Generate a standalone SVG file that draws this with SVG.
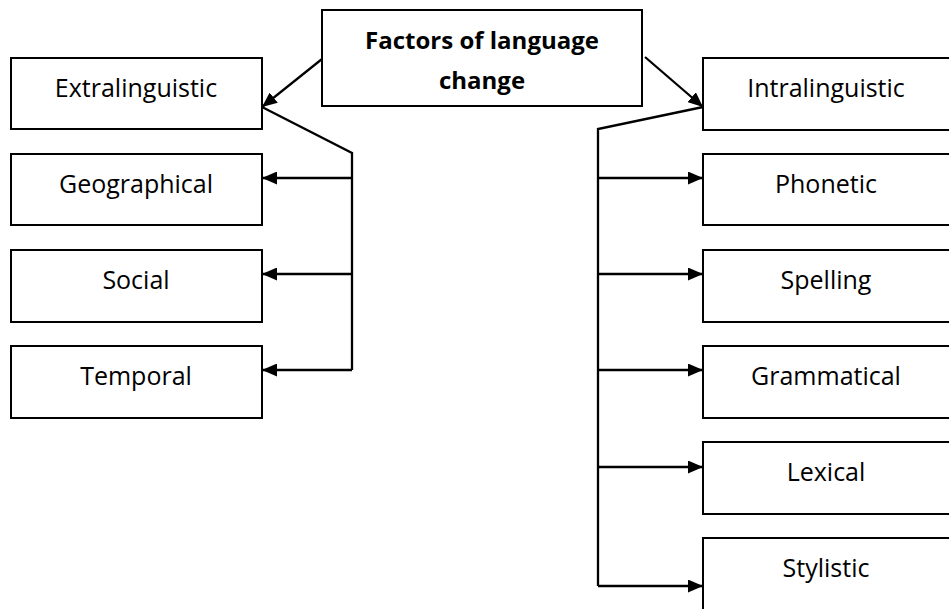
<svg xmlns="http://www.w3.org/2000/svg" width="949" height="609" viewBox="0 0 949 609">
<defs>
<style>
.box{fill:#fff;stroke:#000;stroke-width:2}
.t{font-family:"Open Sans","Noto Sans","Liberation Sans",sans-serif;font-size:25px;fill:#000;text-anchor:middle;font-variant-ligatures:none}
.b{font-weight:bold;font-size:24px}
.c{fill:none;stroke:#000;stroke-width:2.3}
</style>
<marker id="ah" viewBox="0 0 15 13" refX="15" refY="6.5" markerWidth="15" markerHeight="13" markerUnits="userSpaceOnUse" orient="auto">
<path d="M0,0 L15,6.5 L0,13 Z" fill="#000"/>
</marker>
</defs>
<rect width="949" height="609" fill="#fff"/>
<g id="root"><rect class="box" x="322" y="10" width="320" height="96"/><text class="t b" x="482" y="49">Factors of language</text><text class="t b" x="482" y="89">change</text></g>
<g id="extra"><rect class="box" x="11" y="58" width="251" height="71"/><text class="t" x="136" y="97">Extralinguistic</text></g>
<g id="geo"><rect class="box" x="11" y="154" width="251" height="71"/><text class="t" x="136" y="193">Geographical</text></g>
<g id="social"><rect class="box" x="11" y="250" width="251" height="72"/><text class="t" x="136" y="289">Social</text></g>
<g id="temporal"><rect class="box" x="11" y="346" width="251" height="72"/><text class="t" x="136" y="385">Temporal</text></g>
<g id="intra"><rect class="box" x="703" y="58" width="251" height="72"/><text class="t" x="826" y="97">Intralinguistic</text></g>
<g id="phonetic"><rect class="box" x="703" y="154" width="251" height="71"/><text class="t" x="826" y="193">Phonetic</text></g>
<g id="spelling"><rect class="box" x="703" y="250" width="251" height="72"/><text class="t" x="826" y="289">Spelling</text></g>
<g id="grammatical"><rect class="box" x="703" y="346" width="251" height="72"/><text class="t" x="826" y="385">Grammatical</text></g>
<g id="lexical"><rect class="box" x="703" y="442" width="251" height="72"/><text class="t" x="826" y="481">Lexical</text></g>
<g id="stylistic"><rect class="box" x="703" y="538" width="251" height="80"/><text class="t" x="826" y="577">Stylistic</text></g>
<g id="connectors">
<line class="c" x1="322" y1="59" x2="262" y2="107" marker-end="url(#ah)"/>
<line class="c" x1="645" y1="57" x2="703" y2="107" marker-end="url(#ah)"/>
<polyline class="c" points="262,107 352,153 352,370"/>
<line class="c" x1="352" y1="178" x2="262" y2="178" marker-end="url(#ah)"/>
<line class="c" x1="352" y1="274" x2="262" y2="274" marker-end="url(#ah)"/>
<line class="c" x1="352" y1="370" x2="262" y2="370" marker-end="url(#ah)"/>
<polyline class="c" points="703,107 598,129 598,586"/>
<line class="c" x1="598" y1="178" x2="703" y2="178" marker-end="url(#ah)"/>
<line class="c" x1="598" y1="274" x2="703" y2="274" marker-end="url(#ah)"/>
<line class="c" x1="598" y1="370" x2="703" y2="370" marker-end="url(#ah)"/>
<line class="c" x1="598" y1="467" x2="703" y2="467" marker-end="url(#ah)"/>
<line class="c" x1="598" y1="586" x2="703" y2="586" marker-end="url(#ah)"/>
</g>
</svg>
